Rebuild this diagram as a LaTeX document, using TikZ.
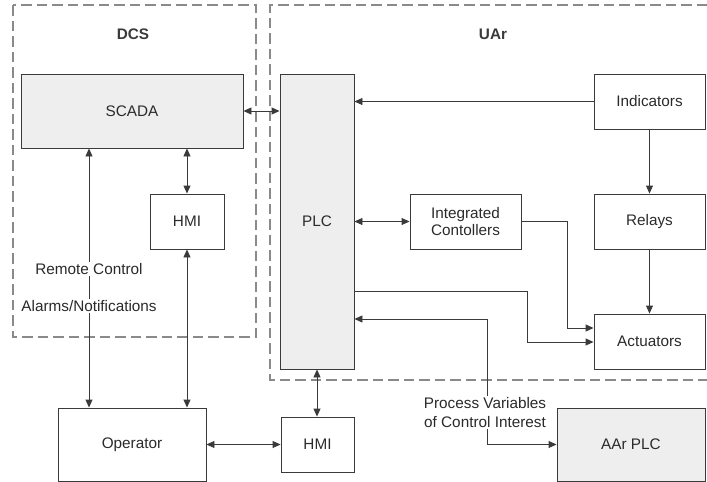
\documentclass[tikz,border=0pt]{standalone}
\usepackage{fontspec}
\setmainfont{Liberation Sans}
\usetikzlibrary{arrows.meta}
\definecolor{boxline}{HTML}{3A3A3A}
\definecolor{boxfill}{HTML}{EEEEEE}
\definecolor{txt}{HTML}{2A2A2A}
\definecolor{dashc}{HTML}{8A8A8A}
\tikzset{
  blk/.style={draw=boxline, line width=0.9pt, text=txt, inner sep=0pt, align=center,
              font=\fontsize{15.3}{17.5}\selectfont},
  grayblk/.style={blk, fill=boxfill},
  conn/.style={draw=boxline, line width=0.9pt},
  tip/.style={-{Triangle[length=8pt,width=7pt]}},
  btip/.style={{Triangle[length=8pt,width=7pt]}-{Triangle[length=8pt,width=7pt]}},
  grp/.style={draw=dashc, line width=1.1pt, dash pattern=on 10.5pt off 5pt},
  grplabel/.style={font=\fontsize{15.3}{17.5}\selectfont\bfseries, text=boxline},
  lbl/.style={fill=white, inner sep=1pt, text=txt, align=center,
              font=\fontsize{15.3}{17.5}\selectfont}
}
\begin{document}
\begin{tikzpicture}[x=1pt,y=-1pt]
\useasboundingbox (0,0) rectangle (707,482);
% groups
\draw[grp] (13,5) rectangle (256,337);
\draw[grp] (707,5) -- (270,5) -- (270,380) -- (707,380);
\node[grplabel] (dcs) at (133,34) {DCS};
\node[grplabel] (uar) at (493,34) {UAr};
% blocks
\node[grayblk, minimum width=222pt, minimum height=74pt] (scada) at (132,111) {SCADA};
\node[blk, minimum width=74pt, minimum height=55pt] (hmia) at (187,221.5) {HMI};
\node[grayblk, minimum width=74pt, minimum height=295pt] (plc) at (317,221.5) {PLC};
\node[blk, minimum width=111pt, minimum height=55pt] (ind) at (649.5,101.5) {Indicators};
\node[blk, minimum width=111pt, minimum height=55pt] (rel) at (649.5,221.5) {Relays};
\node[blk, minimum width=111pt, minimum height=55pt] (ic) at (465.5,221.5) {Integrated\\Contollers};
\node[blk, minimum width=111pt, minimum height=55pt] (act) at (649.5,341.5) {Actuators};
\node[blk, minimum width=148pt, minimum height=73pt] (op) at (132,444.5) {Operator};
\node[blk, minimum width=73pt, minimum height=55pt] (hmib) at (317.5,444.5) {HMI};
\node[grayblk, minimum width=148pt, minimum height=73pt] (aar) at (631,444.5) {AAr PLC};
% connectors
\draw[conn, btip] (scada.east) -- (scada.east -| plc.west);
\draw[conn, tip] (ind.west) -- (ind.west -| plc.east);
\draw[conn, btip] (ic.west -| plc.east) -- (ic.west);
\draw[conn, tip] (ind.south) -- (rel.north);
\draw[conn, tip] (rel.south) -- (act.north);
\draw[conn, tip] (ic.east) -- ++(46,0) |- ([yshift=13.5pt]act.west);
\draw[conn, tip] ([yshift=-69.5pt]plc.east) -- ++(173,0) |- ([yshift=-0.5pt]act.west);
\draw[conn, btip] ([yshift=-97.5pt]plc.east) -- ++(133,0) coordinate (pv) |- (aar.west);
\draw[conn, btip] (plc.south) -- (plc.south |- hmib.north);
\draw[conn, btip] (op.east) -- (hmib.west);
\draw[conn, btip] (scada.south -| hmia.north) -- (hmia.north);
\draw[conn, btip] (hmia.south) -- (hmia.south |- op.north);
\draw[conn, btip] ([xshift=-43pt]scada.south) -- ([xshift=-43pt]scada.south |- op.north);
% labels
\node[lbl] (rc) at (89,269) {Remote Control};
\node[lbl] (an) at (89,306) {Alarms/Notifications};
\node[lbl, font=\fontsize{15.3}{19}\selectfont] (pvl) at (485,412.5) {Process Variables\\of Control Interest};
\end{tikzpicture}
\end{document}
